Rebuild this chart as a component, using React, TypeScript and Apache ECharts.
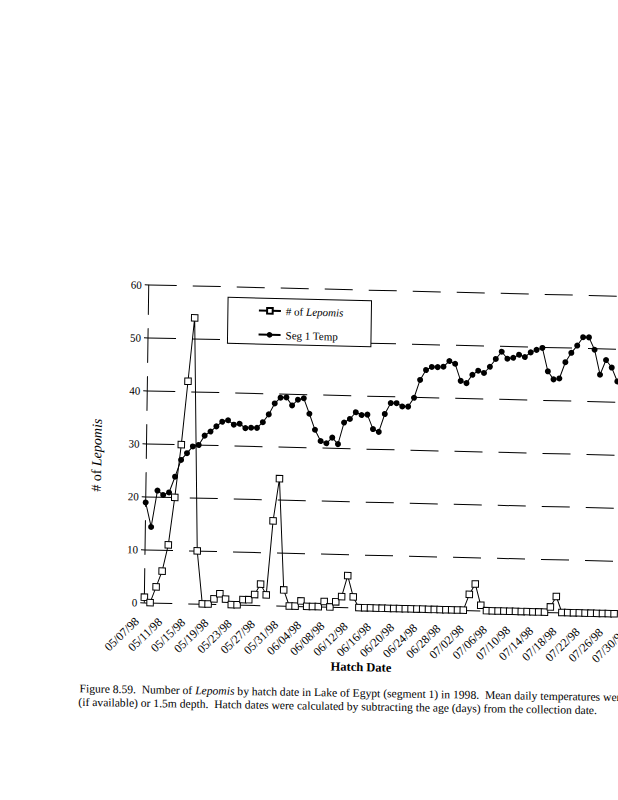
import React, { useEffect, useRef } from "react";
import * as echarts from "echarts";

const hatchDates = [
  "05/07/98", "05/08/98", "05/09/98", "05/10/98", "05/11/98", "05/12/98", "05/13/98", "05/14/98", "05/15/98", "05/16/98",
  "05/17/98", "05/18/98", "05/19/98", "05/20/98", "05/21/98", "05/22/98", "05/23/98", "05/24/98", "05/25/98", "05/26/98",
  "05/27/98", "05/28/98", "05/29/98", "05/30/98", "05/31/98",
  "06/01/98", "06/02/98", "06/03/98", "06/04/98", "06/05/98", "06/06/98", "06/07/98", "06/08/98", "06/09/98", "06/10/98",
  "06/11/98", "06/12/98", "06/13/98", "06/14/98", "06/15/98", "06/16/98", "06/17/98", "06/18/98", "06/19/98", "06/20/98",
  "06/21/98", "06/22/98", "06/23/98", "06/24/98", "06/25/98", "06/26/98", "06/27/98", "06/28/98", "06/29/98", "06/30/98",
  "07/01/98", "07/02/98", "07/03/98", "07/04/98", "07/05/98", "07/06/98", "07/07/98", "07/08/98", "07/09/98", "07/10/98",
  "07/11/98", "07/12/98", "07/13/98", "07/14/98", "07/15/98", "07/16/98", "07/17/98", "07/18/98", "07/19/98", "07/20/98",
  "07/21/98", "07/22/98", "07/23/98", "07/24/98", "07/25/98", "07/26/98", "07/27/98", "07/28/98", "07/29/98", "07/30/98",
];

const lepomisCounts = [
  1, 0, 3, 6, 11, 20, 30, 42, 54, 10,
  0, 0, 1, 2, 1, 0, 0, 1, 1, 2,
  4, 2, 16, 24, 3, 0, 0, 1, 0, 0,
  0, 1, 0, 1, 2, 6, 2, 0, 0, 0,
  0, 0, 0, 0, 0, 0, 0, 0, 0, 0,
  0, 0, 0, 0, 0, 0, 3, 5, 1, 0,
  0, 0, 0, 0, 0, 0, 0, 0, 0, 0,
  1, 3, 0, 0, 0, 0, 0, 0, 0, 0,
  0, 0,
];

const segTemp = [
  18.9, 14.3, 21.2, 20.4, 20.9, 23.9, 27.1, 28.4, 29.7, 30.0,
  31.8, 32.6, 33.6, 34.5, 34.8, 34.0, 34.2, 33.4, 33.5, 33.5,
  34.6, 36.1, 38.2, 39.3, 39.4, 37.9, 39.0, 39.3, 36.4, 33.4,
  31.3, 30.9, 32.0, 30.8, 34.9, 35.6, 36.9, 36.4, 36.5, 33.8,
  33.3, 36.7, 38.8, 38.8, 38.2, 38.2, 39.9, 43.3, 45.2, 45.8,
  45.8, 45.9, 47.0, 46.5, 43.3, 42.9, 44.5, 45.3, 44.9, 46.1,
  47.6, 49.0, 47.7, 47.9, 48.5, 48.1, 49.0, 49.5, 49.9, 45.5,
  44.0, 44.2, 47.3, 49.1, 50.5, 52.1, 52.1, 49.8, 45.1, 47.9,
  46.5, 43.9,
];

const seriesNames = ["# of Lepomis", "Seg 1 Temp"];
const yAxisTitle = ["# of ", "Lepomis"];
const xAxisTitle = "Hatch Date";
const captionLine1 = ["Figure 8.59.  Number of ", "Lepomis", " by hatch date in Lake of Egypt (segment 1) in 1998.  Mean daily temperatures were"];
const captionLine2 = "(if available) or 1.5m depth.  Hatch dates were calculated by subtracting the age (days) from the collection date.";

const FONT = "'Liberation Serif', 'Times New Roman', serif";

export default function App() {
  const ref = useRef<HTMLDivElement>(null);

  useEffect(() => {
    if (!ref.current) return;
    const chart = echarts.init(ref.current, null, { renderer: "svg" });
    const dash = [28, 16];
    const option: any = {
      animation: false,
      backgroundColor: "#fff",
      grid: { left: 146.5, top: 290.6, width: 487.2, height: 317.5, containLabel: false },
      legend: {
        data: seriesNames,
        orient: "vertical",
        left: 226,
        top: 301,
        itemWidth: 22,
        itemHeight: 7,
        itemGap: 13,
        padding: [7, 28, 4, 30],
        borderColor: "#000",
        borderWidth: 1,
        backgroundColor: "#fff",
        formatter: (name: string) =>
          name === seriesNames[0] ? `{n|${yAxisTitle[0]}}{i|${yAxisTitle[1]}}` : `{n|${name}}`,
        textStyle: {
          color: "#000",
          fontFamily: FONT,
          fontSize: 11,
          rich: {
            n: { fontFamily: FONT, fontSize: 11, color: "#000" },
            i: { fontFamily: FONT, fontSize: 11, color: "#000", fontStyle: "italic" },
          },
        },
      },
      xAxis: {
        type: "category",
        data: hatchDates,
        boundaryGap: false,
        axisLine: { show: false },
        axisTick: { show: false },
        splitLine: { show: false },
        axisLabel: {
          interval: 3,
          rotate: 45,
          margin: 10,
          padding: [0, 10, 0, 0],
          color: "#000",
          fontFamily: FONT,
          fontSize: 12,
        },
      },
      yAxis: {
        type: "value",
        min: 0,
        max: 60,
        interval: 10,
        axisLine: { show: true, lineStyle: { color: "#000", width: 1, type: [34, 14] } },
        axisTick: { show: true, length: 4, lineStyle: { color: "#000", width: 1 } },
        axisLabel: { color: "#000", fontFamily: FONT, fontSize: 11, margin: 7 },
        splitLine: { show: true, lineStyle: { color: "#000", width: 1, type: dash } },
      },
      series: [
        {
          name: seriesNames[0],
          type: "line",
          data: lepomisCounts,
          symbol: "rect",
          symbolSize: 6.5,
          showSymbol: true,
          showAllSymbol: true,
          lineStyle: { color: "#000", width: 1 },
          itemStyle: { color: "#fff", borderColor: "#000", borderWidth: 1 },
          z: 3,
        },
        {
          name: seriesNames[1],
          type: "line",
          data: segTemp,
          symbol: "circle",
          symbolSize: 6,
          showSymbol: true,
          showAllSymbol: true,
          lineStyle: { color: "#000", width: 1 },
          itemStyle: { color: "#000", borderColor: "#000", borderWidth: 0 },
          z: 2,
        },
      ],
      graphic: [
        {
          type: "text",
          x: 97,
          y: 462,
          rotation: Math.PI / 2,
          style: {
            text: `{n|${yAxisTitle[0]}}{i|${yAxisTitle[1]}}`,
            align: "center",
            verticalAlign: "middle",
            fill: "#000",
            rich: {
              n: { fontFamily: FONT, fontSize: 14, fill: "#000" },
              i: { fontFamily: FONT, fontSize: 14, fill: "#000", fontStyle: "italic" },
            },
          },
        },
        {
          type: "text",
          x: 364,
          y: 667.5,
          style: {
            text: xAxisTitle,
            align: "center",
            verticalAlign: "middle",
            fill: "#000",
            fontFamily: FONT,
            fontSize: 12.5,
            fontWeight: "bold",
          },
        },
        {
          type: "text",
          x: 83,
          y: 696,
          rotation: 0.008,
          style: {
            text: `{n|${captionLine1[0]}}{i|${captionLine1[1]}}{n|${captionLine1[2]}}`,
            align: "left",
            verticalAlign: "middle",
            fill: "#000",
            rich: {
              n: { fontFamily: FONT, fontSize: 11.6, fill: "#000" },
              i: { fontFamily: FONT, fontSize: 11.6, fill: "#000", fontStyle: "italic" },
            },
          },
        },
        {
          type: "text",
          x: 82,
          y: 709.5,
          rotation: 0.008,
          style: {
            text: captionLine2,
            align: "left",
            verticalAlign: "middle",
            fill: "#000",
            fontFamily: FONT,
            fontSize: 11.6,
          },
        },
      ],
    };
    chart.setOption(option);
    return () => chart.dispose();
  }, []);

  return (
    <div
      style={{
        position: "fixed",
        left: 0,
        top: 0,
        width: 618,
        height: 800,
        overflow: "hidden",
        background: "#fff",
      }}
    >
      <div
        ref={ref}
        style={{
          position: "absolute",
          left: 0,
          top: 0,
          width: 700,
          height: 800,
          transform: "matrix(1, 0.024, -0.014, 1, 0, 0)",
          transformOrigin: "380px 450px",
        }}
      />
    </div>
  );
}
